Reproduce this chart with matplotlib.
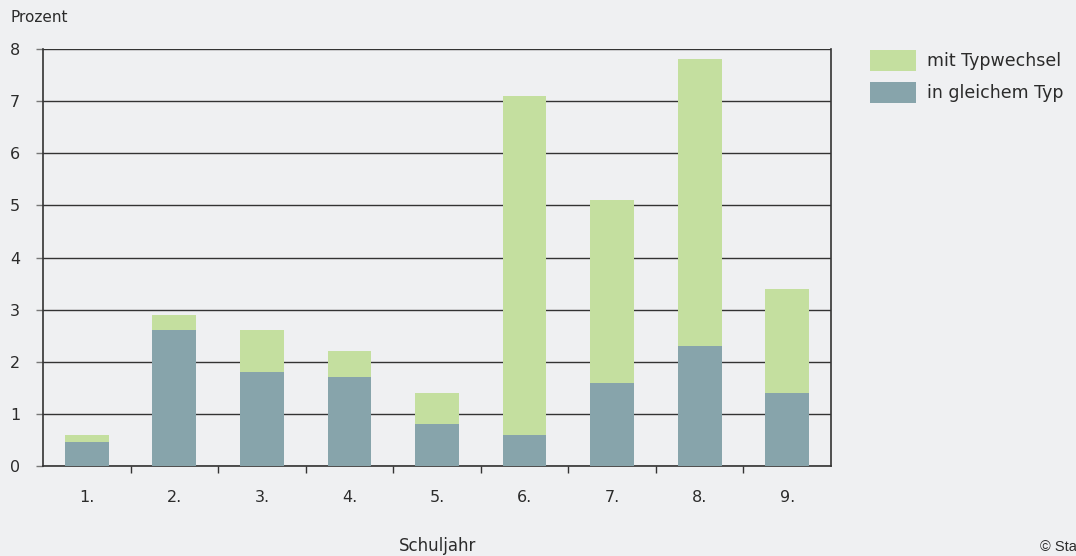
import matplotlib
matplotlib.use("Agg")

import matplotlib.pyplot as plt
import numpy as np
from matplotlib.patches import Rectangle

# Colours
BG = "#eff0f2"
GREEN = "#c4df9f"
BLUEGREY = "#87a4ab"
TEXT = "#2b2b2b"
GRID = "#333333"

# Data: share of pupils repeating a year, in percent
SCHOOL_YEARS = ["1.", "2.", "3.", "4.", "5.", "6.", "7.", "8.", "9."]
SAME_TYPE = [0.47, 2.6, 1.8, 1.7, 0.8, 0.6, 1.6, 2.3, 1.4]
TYPE_CHANGE = [0.13, 0.3, 0.8, 0.5, 0.6, 6.5, 3.5, 5.5, 2.0]
SERIES_LABELS = ["mit Typwechsel", "in gleichem Typ"]

plt.rcParams["font.family"] = ["DejaVu Sans"]

W, H = 1076, 556
fig = plt.figure(figsize=(W / 100, H / 100), dpi=100)
fig.patch.set_facecolor(BG)
ax = fig.add_axes([43 / W, 1 - 466 / H, (831 - 43) / W, (466 - 49) / H])
ax.set_facecolor(BG)

x = np.arange(len(SCHOOL_YEARS))
ax.bar(x, SAME_TYPE, 0.5, color=BLUEGREY, zorder=3)
ax.bar(x, TYPE_CHANGE, 0.5, bottom=SAME_TYPE, color=GREEN, zorder=3)

ax.set_xlim(-0.5, len(SCHOOL_YEARS) - 0.5)
ax.set_ylim(0, 8)

# horizontal grid lines
ax.set_yticks(range(0, 9))
ax.yaxis.grid(True, color=GRID, linewidth=1.0, zorder=1)
ax.set_axisbelow(True)

# category labels centred, tick marks between categories
ax.set_xticks(x)
ax.set_xticklabels(SCHOOL_YEARS, fontsize=11.5, color=TEXT)
ax.tick_params(axis="x", length=0, pad=17)
ax.set_xticks(np.arange(0.5, len(SCHOOL_YEARS) - 0.5, 1), minor=True)
ax.tick_params(axis="x", which="minor", length=5, width=1, color=GRID, direction="out")

ax.tick_params(axis="y", length=5, width=1, color="#777777", labelsize=11.5,
               labelcolor=TEXT, pad=15)
for lbl in ax.get_yticklabels():
    lbl.set_horizontalalignment("center")

for side in ["left", "bottom", "right"]:
    ax.spines[side].set_color(GRID)
    ax.spines[side].set_linewidth(1.2)
ax.spines["top"].set_visible(False)

fig.text(10 / W, 1 - 17 / H, "Prozent", fontsize=11, color=TEXT,
         ha="left", va="center")
fig.text(438 / W, 1 - 546 / H, "Schuljahr", fontsize=12, color=TEXT,
         ha="center", va="center")
fig.text(1040 / W, 1 - 547 / H, "© Statistik", fontsize=10.5, color=TEXT,
         ha="left", va="center", family="Liberation Sans")

# legend boxes on the right
for i, (label, color) in enumerate(zip(SERIES_LABELS, [GREEN, BLUEGREY])):
    top = 50 + 32 * i
    fig.add_artist(Rectangle((870 / W, 1 - (top + 21) / H), 46 / W, 21 / H,
                             transform=fig.transFigure, facecolor=color,
                             edgecolor="none"))
    fig.text(927 / W, 1 - (top + 11) / H, label, fontsize=12.5, color=TEXT,
             ha="left", va="center")

fig.savefig("out.png", dpi=100, facecolor=BG)
